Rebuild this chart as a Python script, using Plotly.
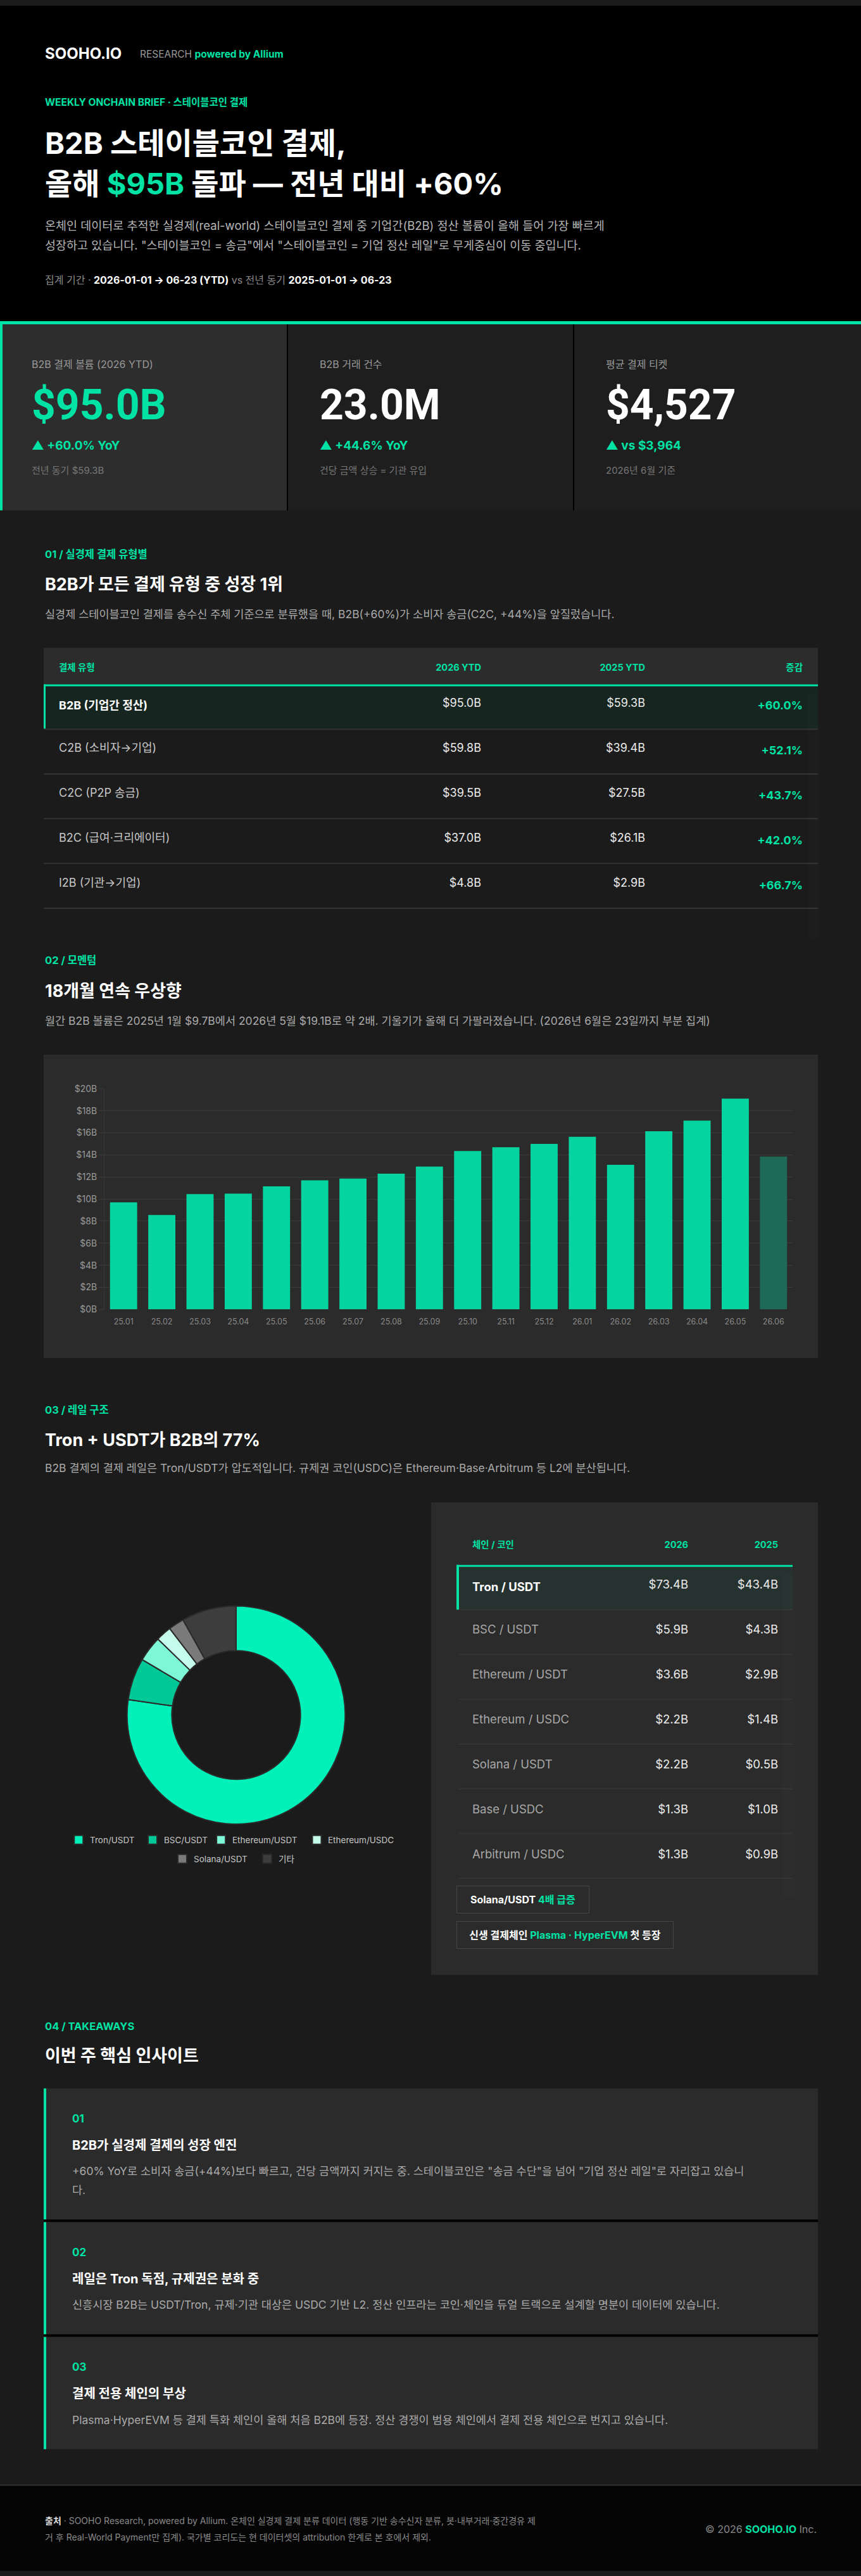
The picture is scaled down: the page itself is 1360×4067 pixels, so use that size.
import plotly.graph_objects as go

W, H = 1360, 4067
ACC = "#00e3a5"
FONT = "Inter, 'Noto Sans CJK KR', sans-serif"
NUM_FONT = "Roboto, 'Noto Sans CJK KR', sans-serif"

# ---- data ----
KPI_LABELS = ["B2B 결제 볼륨 (2026 YTD)", "B2B 거래 건수", "평균 결제 티켓"]
KPI_VALUES = ["$95.0B", "23.0M", "$4,527"]
KPI_DELTAS = ["▲ +60.0% YoY", "▲ +44.6% YoY", "▲ vs $3,964"]
KPI_NOTES = ["전년 동기 $59.3B", "건당 금액 상승 = 기관 유입", "2026년 6월 기준"]

PAY_TYPES = ["B2B (기업간 정산)", "C2B (소비자→기업)", "C2C (P2P 송금)",
             "B2C (급여·크리에이터)", "I2B (기관→기업)"]
PAY_2026 = [95.0, 59.8, 39.5, 37.0, 4.8]
PAY_2025 = [59.3, 39.4, 27.5, 26.1, 2.9]
PAY_CHANGE = [60.0, 52.1, 43.7, 42.0, 66.7]

MONTHS = ["25.01", "25.02", "25.03", "25.04", "25.05", "25.06", "25.07", "25.08", "25.09",
          "25.10", "25.11", "25.12", "26.01", "26.02", "26.03", "26.04", "26.05", "26.06"]
MONTHLY_B2B = [9.7, 8.55, 10.45, 10.5, 11.15, 11.7, 11.85, 12.3, 12.95,
               14.35, 14.7, 15.0, 15.65, 13.1, 16.15, 17.1, 19.1, 13.85]
PARTIAL_MONTH = "26.06"

DONUT_LABELS = ["Tron/USDT", "BSC/USDT", "Ethereum/USDT", "Ethereum/USDC", "Solana/USDT", "기타"]
DONUT_VALUES = [73.4, 5.9, 3.6, 2.2, 2.2, 7.7]
DONUT_COLORS = ["#00f0b9", "#00c896", "#7ef7d6", "#c4fbea", "#7a7a7a", "#3d3d3d"]

CHAINS = ["Tron / USDT", "BSC / USDT", "Ethereum / USDT", "Ethereum / USDC",
          "Solana / USDT", "Base / USDC", "Arbitrum / USDC"]
CHAIN_2026 = [73.4, 5.9, 3.6, 2.2, 2.2, 1.3, 1.3]
CHAIN_2025 = [43.4, 4.3, 2.9, 1.4, 0.5, 1.0, 0.9]

TAKEAWAY_TITLES = ["B2B가 실경제 결제의 성장 엔진",
                   "레일은 Tron 독점, 규제권은 분화 중",
                   "결제 전용 체인의 부상"]
TAKEAWAY_BODIES = [
    ["+60% YoY로 소비자 송금(+44%)보다 빠르고, 건당 금액까지 커지는 중. 스테이블코인은 \"송금 수단\"을 넘어 \"기업 정산 레일\"로 자리잡고 있습니",
     "다."],
    ["신흥시장 B2B는 USDT/Tron, 규제·기관 대상은 USDC 기반 L2. 정산 인프라는 코인·체인을 듀얼 트랙으로 설계할 명분이 데이터에 있습니다."],
    ["Plasma·HyperEVM 등 결제 특화 체인이 올해 처음 B2B에 등장. 정산 경쟁이 범용 체인에서 결제 전용 체인으로 번지고 있습니다."],
]


def fx(x):
    return x / W


def fy(y):
    return 1 - y / H


shapes, notes = [], []


def box(x0, y0, x1, y1, color):
    shapes.append(dict(type="rect", xref="paper", yref="paper", layer="below",
                       x0=fx(x0), x1=fx(x1), y0=fy(y1), y1=fy(y0),
                       fillcolor=color, line=dict(width=0)))


def hline(x0, x1, y, color, width=1):
    shapes.append(dict(type="line", xref="paper", yref="paper", layer="below",
                       x0=fx(x0), x1=fx(x1), y0=fy(y), y1=fy(y),
                       line=dict(color=color, width=width)))


def text(x, y, s, size, color="#ffffff", bold=False, anchor="left", family=FONT, **kw):
    notes.append(dict(xref="paper", yref="paper", x=fx(x), y=fy(y), text=s,
                      showarrow=False, xanchor=anchor, yanchor="middle",
                      font=dict(family=family, size=size, color=color,
                                weight=700 if bold else 400), **kw))


def green(s):
    return "<span style='color:%s'>%s</span>" % (ACC, s)


# ---- header ----
box(0, 0, W, 502, "#000000")
text(69, 76, "SOOHO.IO", 24, bold=True)
text(219, 77, "RESEARCH " + green("<b>powered by Allium</b>"), 15.5, "#9a9a9a")
text(69, 153, "WEEKLY ONCHAIN BRIEF · 스테이블코인 결제", 15.5, ACC, bold=True)
text(69, 217, "B2B 스테이블코인 결제,", 47, bold=True)
text(69, 282, "올해 " + green("$95B") + " 돌파 — 전년 대비 +60%", 47, bold=True)
text(69, 348, "온체인 데이터로 추적한 실경제(real-world) 스테이블코인 결제 중 기업간(B2B) 정산 볼륨이 올해 들어 가장 빠르게", 18.5, "#b5b5b5")
text(69, 380, "성장하고 있습니다. \"스테이블코인 = 송금\"에서 \"스테이블코인 = 기업 정산 레일\"로 무게중심이 이동 중입니다.", 18.5, "#b5b5b5")
text(69, 435, "<span style='color:#8a8a8a'>집계 기간 · </span><b>2026-01-01 → 06-23 (YTD)</b>"
     "<span style='color:#8a8a8a'> vs 전년 동기 </span><b>2025-01-01 → 06-23</b>", 16, "#ffffff")

# ---- KPI cards ----
box(0, 500, W, 505, ACC)
card_x = [0, 455, 907]
card_w = [453, 450, 453]
for i in range(3):
    box(card_x[i], 505, card_x[i] + card_w[i], 800, "#2d2d2d" if i == 0 else "#1e1e1e")
box(453, 505, 455, 800, "#000000")
box(905, 505, 907, 800, "#000000")
box(0, 505, 4, 800, ACC)
for i in range(3):
    tx = card_x[i] + 48
    text(tx, 568, KPI_LABELS[i], 16, "#9a9a9a")
    text(tx, 633, KPI_VALUES[i], 66, ACC if i == 0 else "#ffffff", bold=True, family=NUM_FONT)
    text(tx, 697, KPI_DELTAS[i], 19, ACC, bold=True)
    text(tx, 737, KPI_NOTES[i], 15, "#777777")

# ---- section 01 ----
text(69, 870, "01 / 실경제 결제 유형별", 16.5, ACC, bold=True)
text(69, 917, "B2B가 모든 결제 유형 중 성장 1위", 27, bold=True)
text(69, 965, "실경제 스테이블코인 결제를 송수신 주체 기준으로 분류했을 때, B2B(+60%)가 소비자 송금(C2C, +44%)을 앞질렀습니다.", 17.5, "#aaaaaa")

T1_TOP, T1_HEAD, T1_ROW = 1018, 58, 71
box(69, T1_TOP, 1292, T1_TOP + T1_HEAD, "#2c2c2c")
box(69, T1_TOP + T1_HEAD, 1292, T1_TOP + T1_HEAD + T1_ROW, "#172520")
box(69, T1_TOP + T1_HEAD, 1292, T1_TOP + T1_HEAD + 3, ACC)
box(69, T1_TOP + T1_HEAD, 72, T1_TOP + T1_HEAD + T1_ROW, ACC)
for r in range(1, len(PAY_TYPES) + 1):
    hline(69, 1292, T1_TOP + T1_HEAD + r * T1_ROW, "#333333", 2)

n1 = len(PAY_TYPES)
fig = go.Figure()
fig.add_trace(go.Table(
    domain=dict(x=[fx(85), fx(1276)], y=[fy(1480), fy(T1_TOP + 14)]),
    columnwidth=[515, 168, 259, 249],
    header=dict(values=["<b>결제 유형</b>", "<b>2026 YTD</b>", "<b>2025 YTD</b>", "<b>증감</b>"],
                align=["left", "right", "right", "right"], height=T1_HEAD,
                fill_color="rgba(0,0,0,0)", line_color="rgba(0,0,0,0)",
                font=dict(family=FONT, size=14.5, color=ACC)),
    cells=dict(values=[["<b>%s</b>" % s if i == 0 else s for i, s in enumerate(PAY_TYPES)],
                       ["$%.1fB" % v for v in PAY_2026],
                       ["$%.1fB" % v for v in PAY_2025],
                       ["<b>+%.1f%%</b>" % v for v in PAY_CHANGE]],
               align=["left", "right", "right", "right"], height=T1_ROW,
               fill_color="rgba(0,0,0,0)", line_color="rgba(0,0,0,0)",
               font=dict(family=FONT, size=18,
                         color=[["#ffffff"] + ["#c8c8c8"] * (n1 - 1),
                                ["#ececec"] * n1, ["#ececec"] * n1, [ACC] * n1])),
))

# ---- section 02: monthly bars ----
text(69, 1513, "02 / 모멘텀", 16.5, ACC, bold=True)
text(69, 1562, "18개월 연속 우상향", 27, bold=True)
text(69, 1609, "월간 B2B 볼륨은 2025년 1월 $9.7B에서 2026년 5월 $19.1B로 약 2배. 기울기가 올해 더 가팔라졌습니다. (2026년 6월은 23일까지 부분 집계)", 17.5, "#aaaaaa")
box(69, 1663, 1292, 2144, "#2b2b2b")

fig.add_trace(go.Bar(
    x=MONTHS, y=MONTHLY_B2B,
    marker=dict(color=["#1e6a57" if m == PARTIAL_MONTH else "#05d3a0" for m in MONTHS],
                line=dict(width=0)),
    hoverinfo="skip",
))

# ---- section 03: rails ----
text(69, 2226, "03 / 레일 구조", 16.5, ACC, bold=True)
text(69, 2274, "Tron + USDT가 B2B의 77%", 27, bold=True)
text(69, 2318, "B2B 결제의 결제 레일은 Tron/USDT가 압도적입니다. 규제권 코인(USDC)은 Ethereum·Base·Arbitrum 등 L2에 분산됩니다.", 17.5, "#aaaaaa")

cx, cy, rad = 373, 2710, 173
fig.add_trace(go.Pie(
    labels=DONUT_LABELS, values=DONUT_VALUES, hole=0.59, sort=False,
    direction="clockwise", rotation=0, textinfo="none", hoverinfo="skip",
    showlegend=False,
    marker=dict(colors=DONUT_COLORS, line=dict(color="#2a2a2a", width=2)),
    domain=dict(x=[fx(cx - rad), fx(cx + rad)], y=[fy(cy + rad), fy(cy - rad)]),
))


# hand-built legend under the donut, wrapped into rows and centred
def est_w(s, size):
    return sum(size * (0.64 if ord(c) < 128 else 1.0) for c in s)


LEG_SIZE, SQ, GAP = 13.5, 14, 16
items = [(lab, col, SQ + 9 + est_w(lab, LEG_SIZE)) for lab, col in zip(DONUT_LABELS, DONUT_COLORS)]
rows, cur, cur_w = [], [], 0
for it in items:
    if cur and cur_w + GAP + it[2] > 560:
        rows.append(cur)
        cur, cur_w = [], 0
    cur_w += (GAP if cur else 0) + it[2]
    cur.append(it)
rows.append(cur)
for ri, row in enumerate(rows):
    ly = 2908 + ri * 30
    total = sum(it[2] for it in row) + GAP * (len(row) - 1)
    lx = cx - total / 2
    for lab, col, w in row:
        shapes.append(dict(type="rect", xref="paper", yref="paper", layer="above",
                           x0=fx(lx), x1=fx(lx + SQ), y0=fy(ly + SQ / 2), y1=fy(ly - SQ / 2),
                           fillcolor=col, line=dict(color="#2a2a2a", width=2)))
        text(lx + SQ + 9, ly, lab, LEG_SIZE, "#c8c8c8")
        lx += w + GAP

# chain table panel
box(681, 2373, 1292, 3122, "#2b2b2b")
T2_TOP, T2_HEAD, T2_ROW = 2472, 64, 71
box(721, T2_TOP, 1252, T2_TOP + T2_ROW, "#263230")
box(721, T2_TOP, 1252, T2_TOP + 3, ACC)
box(721, T2_TOP, 725, T2_TOP + T2_ROW, ACC)
for r in range(1, len(CHAINS) + 1):
    hline(724, 1252, T2_TOP + r * T2_ROW, "#3a3a3a", 1)

n2 = len(CHAINS)
fig.add_trace(go.Table(
    domain=dict(x=[fx(738), fx(1237)], y=[fy(3000), fy(T2_TOP + 15 - T2_HEAD)]),
    columnwidth=[212, 145, 142],
    header=dict(values=["<b>체인 / 코인</b>", "<b>2026</b>", "<b>2025</b>"],
                align=["left", "right", "right"], height=T2_HEAD,
                fill_color="rgba(0,0,0,0)", line_color="rgba(0,0,0,0)",
                font=dict(family=FONT, size=14.5, color=ACC)),
    cells=dict(values=[["<b>%s</b>" % s if i == 0 else s for i, s in enumerate(CHAINS)],
                       ["$%.1fB" % v for v in CHAIN_2026],
                       ["$%.1fB" % v for v in CHAIN_2025]],
               align=["left", "right", "right"], height=T2_ROW,
               fill_color="rgba(0,0,0,0)", line_color="rgba(0,0,0,0)",
               font=dict(family=FONT, size=18.5,
                         color=[["#ffffff"] + ["#a8a8a8"] * (n2 - 1),
                                ["#ececec"] * n2, ["#ececec"] * n2])),
))

text(721, 3003, "<b>Solana/USDT " + green("4배 급증") + "</b>", 16, "#ffffff",
     bordercolor="#454545", borderwidth=1, borderpad=0, width=208, height=42, align="center")
text(721, 3059, "<b>신생 결제체인 " + green("Plasma · HyperEVM") + " 첫 등장</b>", 16, "#ffffff",
     bordercolor="#454545", borderwidth=1, borderpad=0, width=341, height=42, align="center")

# ---- section 04: takeaways ----
text(69, 3203, "04 / TAKEAWAYS", 16.5, ACC, bold=True)
text(69, 3250, "이번 주 핵심 인사이트", 27, bold=True)
top = 3302
for i, (title, body) in enumerate(zip(TAKEAWAY_TITLES, TAKEAWAY_BODIES)):
    hgt = 178 + 30 * (len(body) - 1)
    box(69, top, 1292, top + hgt, "#2b2b2b")
    box(69, top, 73, top + hgt, ACC)
    text(112, top + 48, "%02d" % (i + 1), 17, ACC, bold=True)
    text(112, top + 90, title, 20, bold=True)
    for j, line in enumerate(body):
        text(112, top + 131 + 30 * j, line, 17.5, "#aaaaaa")
    if i < len(TAKEAWAY_TITLES) - 1:
        box(69, top + hgt, 1292, top + hgt + 4, "#000000")
    top += hgt + 4

# ---- footer ----
box(0, 3931, W, 4067, "#050505")
hline(0, W, 3931, "#333333", 2)
text(69, 3987, "<b style='color:#dddddd'>출처</b> · SOOHO Research, powered by Allium. 온체인 실경제 결제 분류 데이터 (행동 기반 송수신자 분류, 봇·내부거래·중간경유 제", 14, "#8a8a8a")
text(69, 4013, "거 후 Real-World Payment만 집계). 국가별 코리도는 현 데이터셋의 attribution 한계로 본 호에서 제외.", 14, "#8a8a8a")
text(1292, 4001, "© 2026 " + green("<b>SOOHO.IO</b>") + " Inc.", 16, "#8a8a8a", anchor="right")

fig.update_layout(
    width=W, height=H, margin=dict(l=0, r=0, t=0, b=0),
    paper_bgcolor="#1b1b1b", plot_bgcolor="rgba(0,0,0,0)",
    showlegend=False, bargap=0.29,
    font=dict(family=FONT, color="#ffffff"),
    shapes=shapes, annotations=notes,
    xaxis=dict(domain=[fx(165), fx(1252)], type="category", showgrid=False,
               ticks="", ticklabelstandoff=10, showline=False, zeroline=False,
               tickfont=dict(family=FONT, size=12.5, color="#8a8a8a"), fixedrange=True),
    yaxis=dict(domain=[fy(2067), fy(1717)], range=[0, 20], dtick=2,
               tickprefix="$", ticksuffix="B", showgrid=True, gridcolor="#3a3a3a",
               gridwidth=1, ticks="outside", ticklen=8, tickcolor="#3a3a3a",
               showline=True, linecolor="#363636", zeroline=False,
               tickfont=dict(family=FONT, size=14, color="#9a9a9a"), fixedrange=True),
)

fig.write_html("out.html", config={"displayModeBar": False},
               post_script="document.body.style.margin='0';document.body.style.background='#000';")
